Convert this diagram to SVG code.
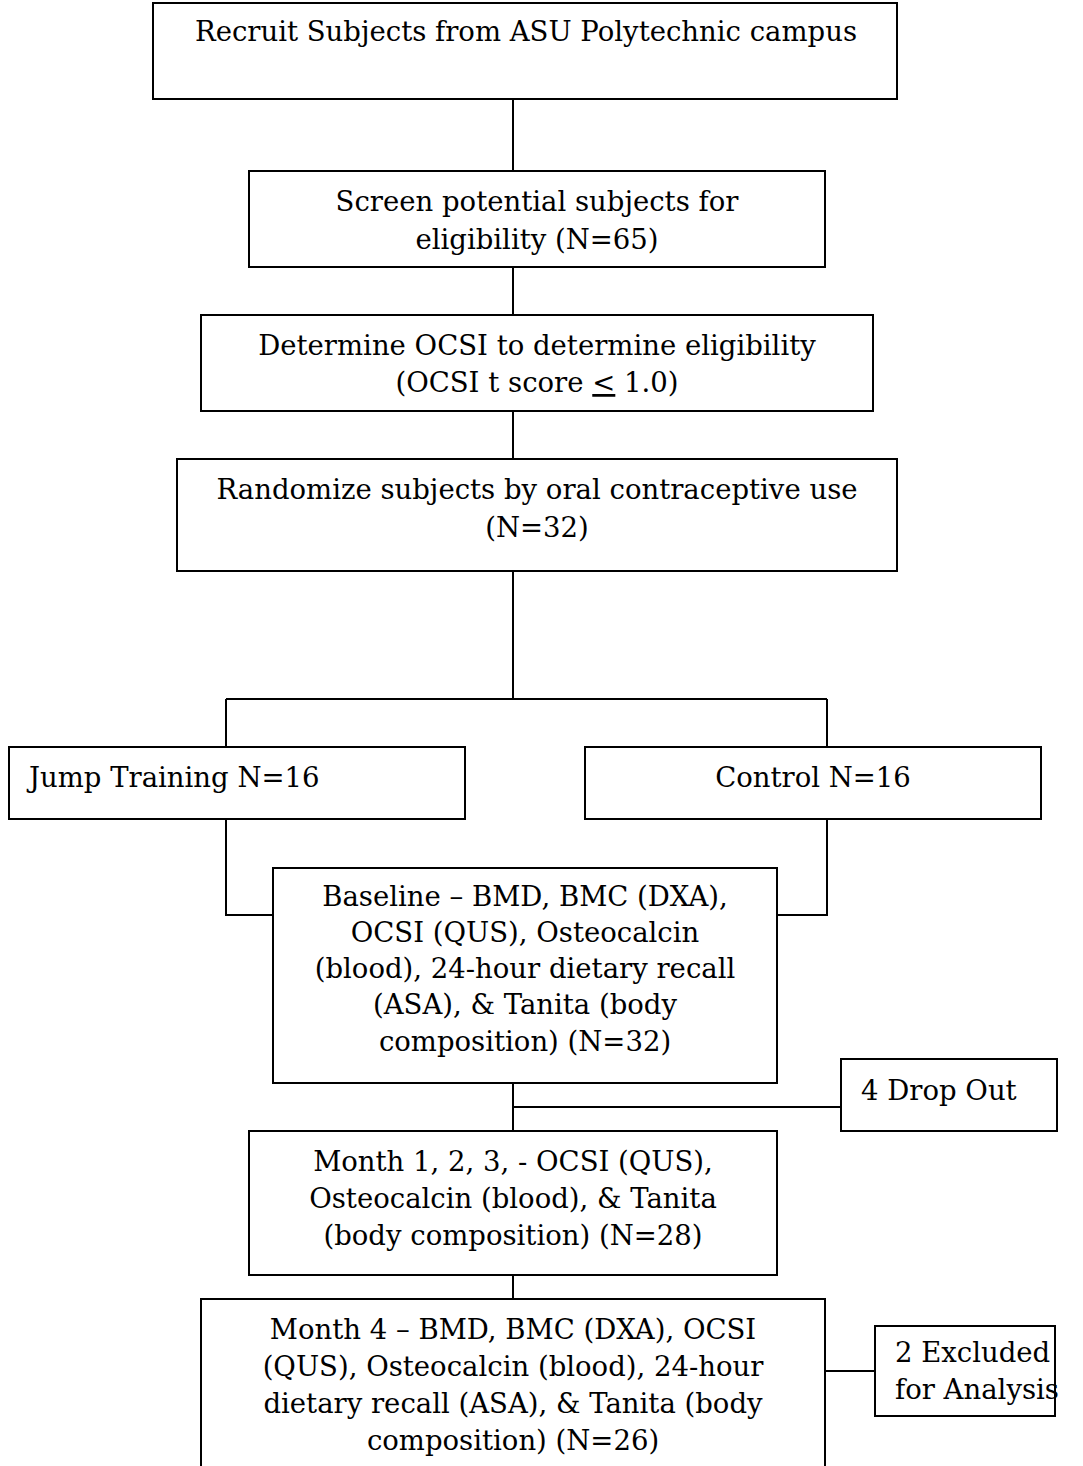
<svg xmlns="http://www.w3.org/2000/svg" width="1083" height="1466" viewBox="0 0 1083 1466">
<style>
.box{fill:#fff;stroke:#000;stroke-width:2}
.ln{fill:none;stroke:#000;stroke-width:2}
text{font-family:"DejaVu Serif","Liberation Serif",serif;font-size:27.5px;fill:#000}
.c{text-anchor:middle}
</style>
<rect width="1083" height="1466" fill="#fff"/>
<g id="connectors">
<path class="ln" d="M513 99V171M513 267V315M513 411V459M513 571V699M226 699H827M226 699V747M827 699V747"/>
<path class="ln" d="M226 819V915H273M827 819V915H777"/>
<path class="ln" d="M513 1083V1131M513 1107H841M513 1275V1299M825 1371H875"/>
</g>
<g id="recruit">
<rect class="box" x="153" y="3" width="744" height="96"/>
<text class="c" x="526" y="41">Recruit Subjects from ASU Polytechnic campus</text>
</g>
<g id="screen">
<rect class="box" x="249" y="171" width="576" height="96"/>
<text class="c" x="537" y="211">Screen potential subjects for</text>
<text class="c" x="537" y="249">eligibility (N=65)</text>
</g>
<g id="determine">
<rect class="box" x="201" y="315" width="672" height="96"/>
<text class="c" x="537" y="355">Determine OCSI to determine eligibility</text>
<text class="c" x="537" y="392">(OCSI t score  <tspan text-decoration="underline">&lt;</tspan> 1.0)</text>
</g>
<g id="randomize">
<rect class="box" x="177" y="459" width="720" height="112"/>
<text class="c" x="537" y="499">Randomize subjects by oral contraceptive use</text>
<text class="c" x="537" y="537">(N=32)</text>
</g>
<g id="jump">
<rect class="box" x="9" y="747" width="456" height="72"/>
<text x="29" y="787">Jump Training N=16</text>
</g>
<g id="control">
<rect class="box" x="585" y="747" width="456" height="72"/>
<text class="c" x="813" y="787">Control N=16</text>
</g>
<g id="baseline">
<rect class="box" x="273" y="868" width="504" height="215"/>
<text class="c" x="525" y="906">Baseline – BMD, BMC (DXA),</text>
<text class="c" x="525" y="942">OCSI (QUS), Osteocalcin</text>
<text class="c" x="525" y="978">(blood), 24-hour dietary recall</text>
<text class="c" x="525" y="1014">(ASA), &amp; Tanita (body</text>
<text class="c" x="525" y="1051">composition) (N=32)</text>
</g>
<g id="dropout">
<rect class="box" x="841" y="1059" width="216" height="72"/>
<text x="861" y="1100">4 Drop Out</text>
</g>
<g id="month123">
<rect class="box" x="249" y="1131" width="528" height="144"/>
<text class="c" x="513" y="1171">Month 1, 2, 3, - OCSI (QUS),</text>
<text class="c" x="513" y="1208">Osteocalcin (blood), &amp; Tanita</text>
<text class="c" x="513" y="1245">(body composition) (N=28)</text>
</g>
<g id="month4">
<rect class="box" x="201" y="1299" width="624" height="200"/>
<text class="c" x="513" y="1339">Month 4 – BMD, BMC (DXA), OCSI</text>
<text class="c" x="513" y="1376">(QUS), Osteocalcin (blood), 24-hour</text>
<text class="c" x="513" y="1413">dietary recall (ASA), &amp; Tanita (body</text>
<text class="c" x="513" y="1450">composition) (N=26)</text>
</g>
<g id="excluded">
<rect class="box" x="875" y="1326" width="180" height="90"/>
<text x="895" y="1362">2 Excluded</text>
<text x="895" y="1399">for Analysis</text>
</g>
</svg>
